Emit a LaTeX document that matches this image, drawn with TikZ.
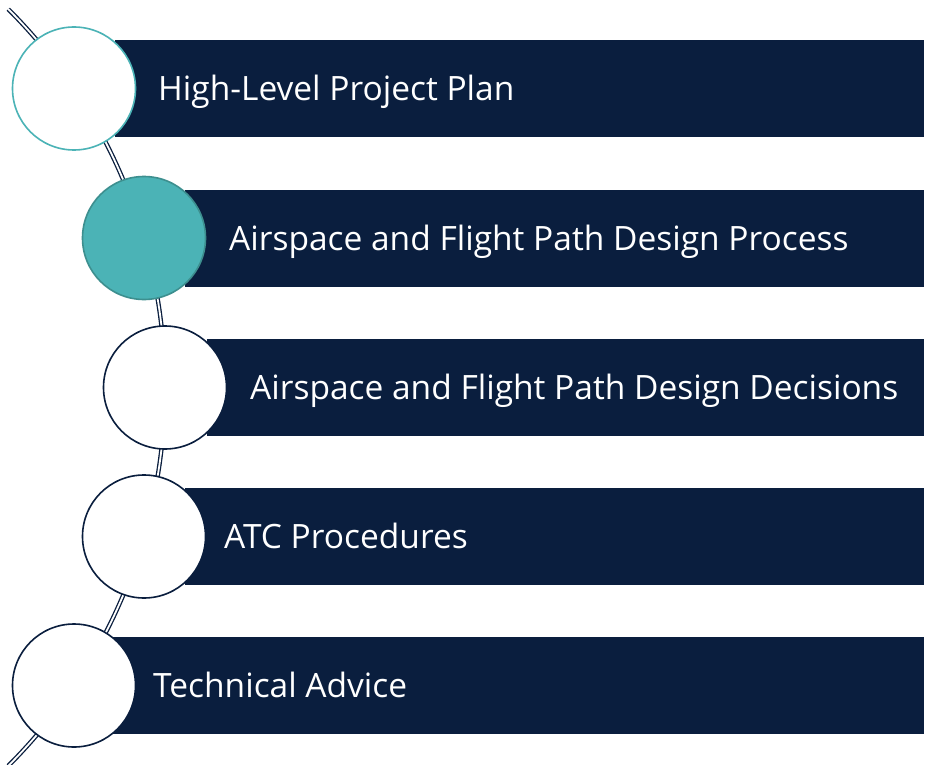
\documentclass[tikz,border=0pt]{standalone}
\usepackage{fontspec}
\setmainfont{Open Sans}
\definecolor{navy}{HTML}{0A1E3E}
\definecolor{teal1}{HTML}{4BB3B6}
\definecolor{teal2}{HTML}{3D8F8F}
\begin{document}
\begin{tikzpicture}[x=1pt,y=-1pt,
  bar/.style={fill=navy,draw=none,minimum height=97pt,inner sep=0pt},
  ring/.style={circle,minimum size=123pt,inner sep=0pt,fill=white,draw=navy,line width=1.6pt},
  label/.style={text=white,font=\fontsize{33.5}{40}\selectfont,anchor=base west,inner sep=0pt}]
\useasboundingbox (0,0) rectangle (926,765);
\fill[white] (0,0) rectangle (926,765);
\coordinate (ctr) at (-370,387.5);
% spine
\draw[navy,line width=1.3pt,double=white,double distance=1.8pt]
  ([shift={(45:535)}]ctr) arc[start angle=45,end angle=-45,radius=535];
% bars
\node[bar,anchor=west,minimum width=809pt] (b1) at (115,88.5) {};
\node[bar,anchor=west,minimum width=739pt] (b2) at (185,238) {};
\node[bar,anchor=west,minimum width=717pt] (b3) at (207,387) {};
\node[bar,anchor=west,minimum width=739pt] (b4) at (185,536) {};
\node[bar,anchor=west,minimum width=811pt] (b5) at (113,685.5) {};
% circles
\node[ring,draw=teal1] (c1) at (74,88.5) {};
\node[ring,fill=teal1,draw=teal2] (c2) at (144,238) {};
\node[ring] (c3) at (165,387.5) {};
\node[ring] (c4) at (144,536.5) {};
\node[ring] (c5) at (74,685.5) {};
% labels
\node[label] (t1) at (158,100.5) {High-Level Project Plan};
\node[label] (t2) at (229,250) {Airspace and Flight Path Design Process};
\node[label] (t3) at (250,399) {Airspace and Flight Path Design Decisions};
\node[label] (t4) at (224,548) {ATC Procedures};
\node[label] (t5) at (153,697.5) {Technical Advice};
\end{tikzpicture}
\end{document}
